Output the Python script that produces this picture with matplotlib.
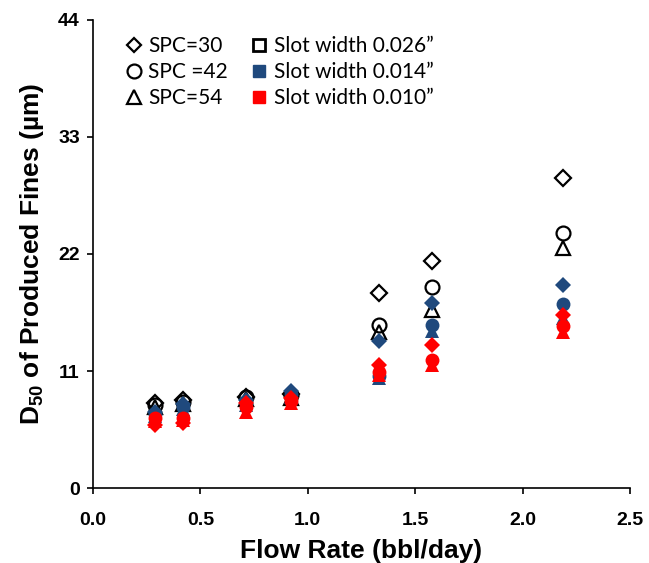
import matplotlib
matplotlib.use('Agg')
import matplotlib.pyplot as plt
from matplotlib.lines import Line2D

plt.rcParams['font.family'] = ['Liberation Sans', 'DejaVu Sans']
plt.rcParams['mathtext.fontset'] = 'custom'
plt.rcParams['mathtext.rm'] = 'Liberation Sans:bold'
plt.rcParams['mathtext.bf'] = 'Liberation Sans:bold'

# flow rate (bbl/day)
flow = [0.29, 0.42, 0.71, 0.92, 1.33, 1.58, 2.19]

# D50 (um), slot width 0.026"
w026_spc30 = [8.0, 8.3, 8.6, 8.8, 18.3, 21.3, 29.1]
w026_spc42 = [7.8, 8.1, 8.6, 8.7, 15.3, 18.9, 24.0]
w026_spc54 = [7.6, 7.9, 8.4, 8.5, 14.7, 16.7, 22.6]
# slot width 0.014"
w014_spc30 = [7.1, 7.9, 8.3, 9.1, 13.8, 17.4, 19.1]
w014_spc42 = [7.0, 7.6, 8.0, 8.8, 10.5, 15.3, 17.3]
w014_spc54 = [6.8, 7.4, 7.8, 8.6, 10.3, 14.8, 16.0]
# slot width 0.010"
w010_spc30 = [5.9, 6.1, 8.0, 8.5, 11.6, 13.4, 16.3]
w010_spc42 = [6.6, 6.6, 7.6, 8.2, 10.9, 12.0, 15.2]
w010_spc54 = [6.3, 6.4, 7.1, 8.0, 10.6, 11.6, 14.7]

spc_labels = ['SPC=30', 'SPC =42', 'SPC=54']
slot_labels = ['Slot width 0.026\u201d', 'Slot width 0.014\u201d', 'Slot width 0.010\u201d']

blue = '#1F497D'
red = '#FF0000'
sizes = {'D': 8, 'o': 10, '^': 10}

fig = plt.figure(figsize=(6.49, 5.63), dpi=100)
ax = fig.add_axes([0.1433, 0.1332, 0.8274, 0.8313])

# open black markers (0.026")
for y, m in zip([w026_spc30, w026_spc42, w026_spc54], ['D', 'o', '^']):
    ax.plot(flow, y, linestyle='none', marker=m, markersize=sizes[m],
            markerfacecolor='none', markeredgecolor='black', markeredgewidth=1.6)
# filled blue (0.014")
for y, m in zip([w014_spc30, w014_spc42, w014_spc54], ['D', 'o', '^']):
    ax.plot(flow, y, linestyle='none', marker=m, markersize=sizes[m],
            color=blue, markeredgewidth=0)
# filled red (0.010")
for y, m in zip([w010_spc30, w010_spc42, w010_spc54], ['D', 'o', '^']):
    ax.plot(flow, y, linestyle='none', marker=m, markersize=sizes[m],
            color=red, markeredgewidth=0)

ax.set_xlim(0, 2.5)
ax.set_ylim(0, 44)
ax.set_xticks([0.0, 0.5, 1.0, 1.5, 2.0, 2.5])
ax.set_xticklabels(['0.0', '0.5', '1.0', '1.5', '2.0', '2.5'])
ax.set_yticks([0, 11, 22, 33, 44])
ax.tick_params(direction='out', length=4.5, width=1.2, labelsize=14)
ax.tick_params(axis='x', pad=13)
ax.tick_params(axis='y', pad=5)
for lab in ax.get_xticklabels() + ax.get_yticklabels():
    lab.set_fontweight('bold')
ax.spines['top'].set_visible(False)
ax.spines['right'].set_visible(False)
ax.spines['left'].set_linewidth(1.2)
ax.spines['bottom'].set_linewidth(1.2)

ax.set_xlabel('Flow Rate (bbl/day)', fontsize=19, fontweight='bold', labelpad=7)
ax.set_ylabel('D$_{50}$ of Produced Fines (\u00b5m)', fontsize=19, fontweight='bold', labelpad=9)

# legend: marker shapes + slot widths
handles = [
    Line2D([], [], linestyle='none', marker='D', markersize=7, markerfacecolor='none',
           markeredgecolor='black', markeredgewidth=1.6),
    Line2D([], [], linestyle='none', marker='o', markersize=10, markerfacecolor='none',
           markeredgecolor='black', markeredgewidth=1.6),
    Line2D([], [], linestyle='none', marker='^', markersize=10, markerfacecolor='none',
           markeredgecolor='black', markeredgewidth=1.6),
    Line2D([], [], linestyle='none', marker='s', markersize=8, markerfacecolor='none',
           markeredgecolor='black', markeredgewidth=2),
    Line2D([], [], linestyle='none', marker='s', markersize=9, color=blue),
    Line2D([], [], linestyle='none', marker='s', markersize=9, color=red),
]
ax.legend(handles, spc_labels + slot_labels, ncol=2, frameon=False,
          loc='upper left', bbox_to_anchor=(0.025, 1.006),
          prop={'family': 'Lato', 'size': 15},
          handlelength=0.8, handletextpad=0.3, columnspacing=1.1, labelspacing=0.3)

fig.savefig('out.png', dpi=100)
